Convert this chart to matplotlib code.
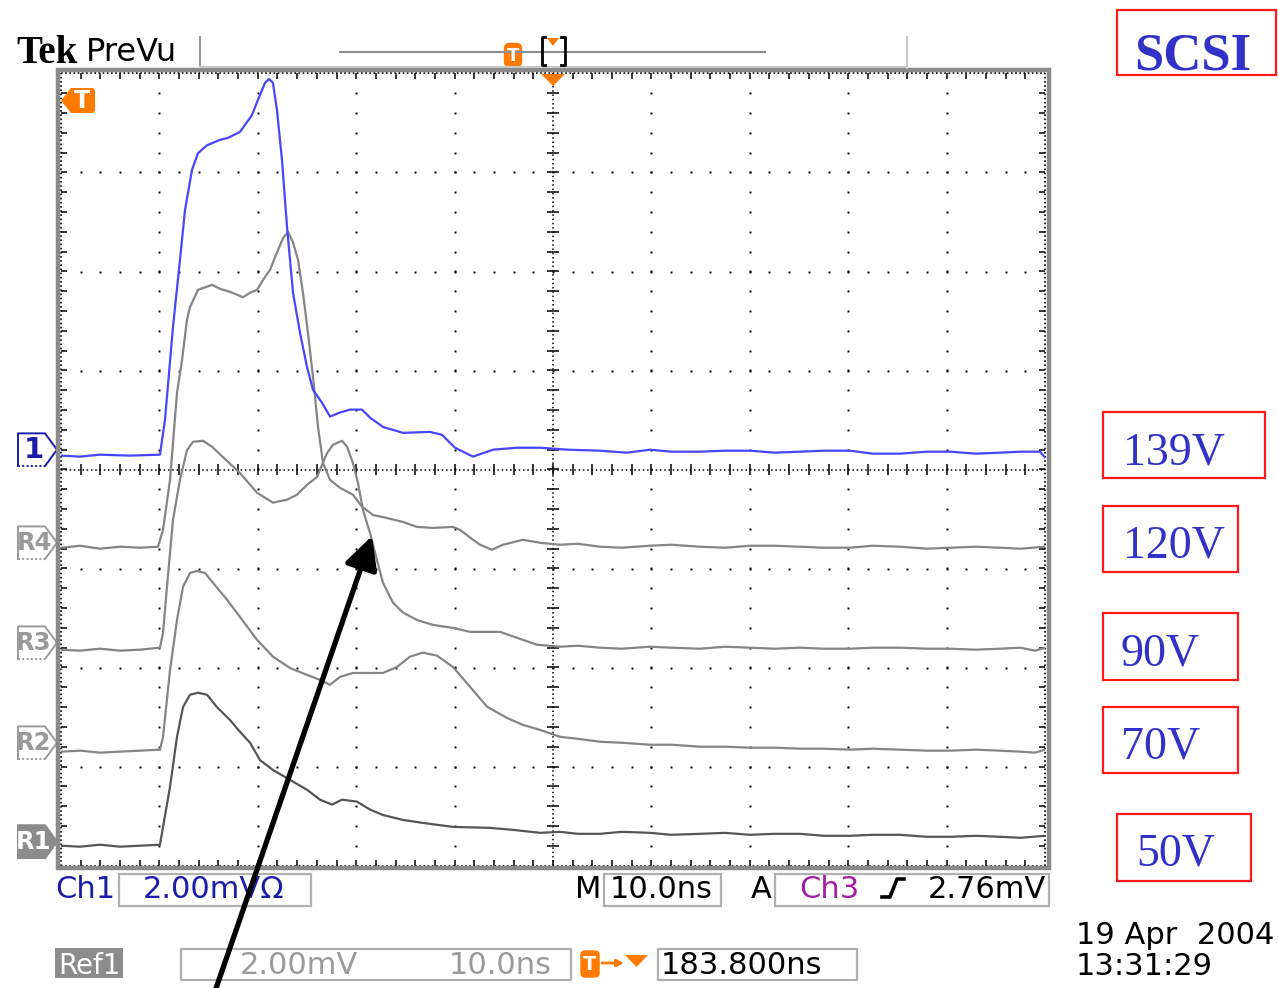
import numpy as np
import matplotlib
matplotlib.use("Agg")
import matplotlib.pyplot as plt
from matplotlib.patches import Polygon, Rectangle, FancyBboxPatch
from matplotlib.collections import LineCollection
from matplotlib import transforms

# ---------------------------------------------------------------- data
# time in ns (10 ns/div), amplitude in mV (2 mV/div), relative to each trace's marker
t_ch1 = [0, 1.93, 3.96, 7.01, 10.06, 10.57, 11.38, 12.09, 12.60, 13.31, 13.92, 14.84,
         16.16, 16.97, 18.19, 19.41, 19.92, 20.73, 21.14, 21.54, 21.95, 22.46, 22.97,
         23.58, 24.29, 25.00, 25.61, 26.52, 27.34, 28.35, 29.37, 30.59, 31.40, 32.72,
         34.76, 37.50, 38.72, 40.04, 41.87, 43.90, 46.34, 48.68, 51.5, 54.78, 57.5,
         59.86, 62.0, 64.94, 67.5, 70.02, 72.5, 75.10, 77.5, 80.18, 82.5, 85.26, 88.0,
         90.35, 93.0, 95.43, 97.5, 99.49, 100]
v_ch1 = [-0.12, -0.14, -0.10, -0.12, -0.10, 0.61, 2.48, 3.83, 4.84, 5.65, 5.99, 6.15,
         6.26, 6.30, 6.42, 6.76, 7.02, 7.41, 7.49, 7.41, 6.86, 5.85, 4.50,
         3.17, 2.36, 1.67, 1.21, 0.95, 0.67, 0.75, 0.81, 0.81, 0.65, 0.46,
         0.34, 0.36, 0.30, 0.04, -0.14, 0.00, 0.04, 0.04, 0.00, -0.02, -0.06,
         0.00, -0.04, -0.04, -0.02, -0.02, -0.06, -0.04, -0.02, -0.02, -0.08, -0.08, -0.04,
         -0.04, -0.08, -0.06, -0.04, -0.04, -0.16]

t_r4 = [0, 1.93, 3.96, 6.00, 8.03, 9.86, 10.37, 11.08, 11.79, 12.30, 12.80, 13.11, 13.92,
        15.35, 16.16, 17.17, 18.50, 19.21, 19.92, 20.73, 21.24, 21.75, 22.56, 23.07,
        23.58, 24.09, 24.59, 25.10, 25.61, 26.12, 26.63, 27.34, 28.35, 29.67, 30.59,
        31.71, 33.13, 34.76, 36.18, 37.80, 39.84, 40.55, 41.87, 42.58, 43.80, 44.92,
        46.95, 48.68, 50.71, 52.5, 54.78, 57.0, 59.86, 62.0, 64.94, 67.5, 70.02, 72.5,
        75.10, 77.5, 80.18, 82.5, 85.26, 88.0, 90.35, 93.0, 95.43, 97.5, 100]
v_r4 = [-0.10, -0.06, -0.12, -0.08, -0.10, -0.08, 0.26, 1.27, 3.03, 3.69, 4.50, 4.76, 5.11,
        5.21, 5.13, 5.07, 4.96, 5.05, 5.11, 5.37, 5.51, 5.77, 6.15, 6.28,
        6.07, 5.71, 5.05, 4.24, 3.35, 2.34, 1.61, 1.27, 1.11, 0.97, 0.73,
        0.56, 0.50, 0.42, 0.32, 0.30, 0.32, 0.26, 0.06, -0.04, -0.14, -0.04,
        0.06, 0.00, -0.04, -0.02, -0.08, -0.10, -0.06, -0.04, -0.08, -0.10, -0.06, -0.06,
        -0.08, -0.10, -0.10, -0.06, -0.08, -0.12, -0.10, -0.08, -0.10, -0.12, -0.08]

t_r3 = [0, 1.93, 3.96, 6.00, 8.03, 10.06, 10.37, 10.77, 11.38, 12.09, 12.80, 13.41, 14.43,
        15.35, 16.46, 18.19, 19.92, 21.54, 22.97, 23.98, 25.00, 26.02, 27.03, 27.64,
        28.56, 29.07, 29.67, 30.18, 30.69, 31.40, 32.11, 32.72, 33.74, 34.76, 36.18,
        37.80, 39.84, 41.57, 44.61, 46.34, 48.37, 50.71, 52.5, 54.78, 57.0, 59.86, 62.0,
        64.94, 67.5, 70.02, 72.5, 75.10, 77.5, 80.18, 82.5, 85.26, 88.0, 90.35, 93.0,
        95.43, 97.5, 99.0, 100]
v_r3 = [-0.14, -0.16, -0.12, -0.16, -0.14, -0.10, 0.20, 1.13, 2.48, 3.29, 3.89, 4.06, 4.08,
        3.96, 3.75, 3.43, 3.03, 2.83, 2.89, 2.99, 3.19, 3.35, 3.83, 4.00,
        4.08, 3.96, 3.63, 3.23, 2.68, 2.22, 1.67, 1.21, 0.81, 0.61, 0.46,
        0.36, 0.30, 0.22, 0.22, 0.10, -0.04, -0.08, -0.06, -0.10, -0.12, -0.08, -0.10,
        -0.12, -0.08, -0.10, -0.12, -0.10, -0.12, -0.12, -0.10, -0.10, -0.12, -0.12, -0.14,
        -0.12, -0.10, -0.16, -0.10]

t_r2 = [0, 1.93, 3.96, 6.00, 8.03, 10.06, 10.37, 11.08, 11.79, 12.40, 13.11, 13.82, 14.63,
        15.45, 16.87, 18.19, 19.92, 21.54, 23.27, 25.00, 26.32, 27.34, 28.35, 29.67,
        31.71, 32.72, 34.15, 35.47, 36.79, 38.21, 39.84, 41.57, 43.29, 45.33, 46.95,
        48.68, 50.71, 52.5, 54.78, 57.0, 59.86, 62.0, 64.94, 67.5, 70.02, 72.5,
        75.10, 77.5, 80.18, 82.5, 85.26, 88.0, 90.35, 93.0, 95.43, 97.5, 99.0, 100]
v_r2 = [-0.18, -0.16, -0.20, -0.18, -0.16, -0.14, 0.12, 1.47, 2.48, 3.15, 3.43, 3.47, 3.43,
        3.23, 2.89, 2.54, 2.08, 1.74, 1.51, 1.37, 1.27, 1.17, 1.33, 1.41,
        1.41, 1.41, 1.53, 1.74, 1.82, 1.76, 1.53, 1.13, 0.73, 0.50, 0.36,
        0.26, 0.12, 0.08, 0.02, 0.00, -0.04, -0.04, -0.08, -0.08, -0.10, -0.10,
        -0.12, -0.12, -0.14, -0.12, -0.14, -0.16, -0.16, -0.14, -0.16, -0.18, -0.20, -0.14]

t_r1 = [0, 1.93, 3.96, 6.00, 8.03, 10.06, 10.37, 11.08, 11.79, 12.40, 13.11, 13.92, 14.84,
        15.85, 17.17, 18.19, 19.21, 20.22, 21.54, 23.27, 25.00, 26.32, 27.54, 28.56,
        30.08, 31.40, 32.72, 34.76, 36.79, 39.84, 43.60, 45.93, 48.68, 50.71, 52.5,
        54.78, 57.0, 59.86, 62.0, 64.94, 67.5, 70.02, 72.5, 75.10, 77.5, 80.18, 82.5,
        85.26, 88.0, 90.35, 93.0, 95.43, 97.5, 100]
v_r1 = [-0.08, -0.10, -0.06, -0.10, -0.08, -0.06, 0.30, 1.11, 2.12, 2.72, 2.97, 3.01, 2.97,
        2.72, 2.46, 2.22, 2.00, 1.65, 1.45, 1.25, 1.05, 0.85, 0.75, 0.85,
        0.81, 0.65, 0.54, 0.44, 0.38, 0.30, 0.28, 0.24, 0.18, 0.20, 0.16,
        0.16, 0.20, 0.18, 0.14, 0.16, 0.18, 0.14, 0.16, 0.16, 0.12, 0.12, 0.14,
        0.14, 0.10, 0.10, 0.12, 0.10, 0.08, 0.12]

trace_labels = ["1", "R4", "R3", "R2", "R1"]
bias_labels = ["139V", "120V", "90V", "70V", "50V"]

# ---------------------------------------------------------------- layout
W, H = 1278, 988
MV_PER_DIV = 2.0
NS_PER_DIV = 10.0
offsets_div = [0.20, -0.74, -1.75, -2.76, -3.76]

fig = plt.figure(figsize=(W / 100, H / 100), dpi=100)
fig.patch.set_facecolor("white")

X0, X1, Y0, Y1 = 61, 1045, 73.5, 865.5
ax = fig.add_axes([X0 / W, 1 - Y1 / H, (X1 - X0) / W, (Y1 - Y0) / H])
ax.set_xlim(0, 10 * NS_PER_DIV)
ax.set_ylim(-4, 4)
ax.axis("off")

ov = fig.add_axes([0, 0, 1, 1], zorder=5)
ov.set_xlim(0, W)
ov.set_ylim(H, 0)
ov.axis("off")
ov.patch.set_alpha(0)

# ---------------------------------------------------------------- graticule
minor_x = np.arange(0, 100.001, NS_PER_DIV / 5)
minor_y = np.arange(-4, 4.001, 0.2)
dot_kw = dict(ls="none", marker="s", ms=1.4, mew=0, color="black")
for xm in np.arange(10, 100, 10):
    if xm == 50:
        continue
    ax.plot(np.full(len(minor_y) - 2, xm), minor_y[1:-1], **dot_kw)
for ym in np.arange(-3, 4, 1):
    if ym == 0:
        continue
    ax.plot(minor_x[1:-1], np.full(len(minor_x) - 2, ym), **dot_kw)

# centre cross with tick marks
ax.plot([0, 100], [0, 0], ls=(0, (1, 1.8)), lw=1.1, color="black")
ax.plot([50, 50], [-4, 4], ls=(0, (1, 1.8)), lw=1.1, color="black")
segs = [[(x, -0.06), (x, 0.06)] for x in minor_x[1:-1]]
segs += [[(49.4, y), (50.6, y)] for y in minor_y[1:-1]]
ax.add_collection(LineCollection(segs, colors="black", lw=1.1))

# inner edge of the screen: dense dots with ticks every minor step
for xe in (0, 100):
    ax.plot([xe, xe], [-4, 4], ls=(0, (1, 1.5)), lw=1.2, color="black", clip_on=False)
for ye in (-4, 4):
    ax.plot([0, 100], [ye, ye], ls=(0, (1, 1.5)), lw=1.2, color="black", clip_on=False)
edge = []
for x in minor_x[1:-1]:
    edge += [[(x, 4), (x, 3.94)], [(x, -4), (x, -3.94)]]
for y in minor_y[1:-1]:
    edge += [[(0, y), (0.6, y)], [(100, y), (99.4, y)]]
ax.add_collection(LineCollection(edge, colors="black", lw=1.1))

# ---------------------------------------------------------------- traces
trace_t = [t_ch1, t_r4, t_r3, t_r2, t_r1]
trace_v = [v_ch1, v_r4, v_r3, v_r2, v_r1]
colors = ["#4646ff", "#858585", "#858585", "#858585", "#555555"]
for t, v, off, c in zip(trace_t[::-1], trace_v[::-1], offsets_div[::-1], colors[::-1]):
    ax.plot(t, off + np.asarray(v) / MV_PER_DIV, color=c, lw=1.6, zorder=3)

# thick grey screen frame
ov.add_patch(Rectangle((57.5, 70.5), 991.5, 797.5, fill=False, ec="#8a8a8a", lw=3.2))

# ---------------------------------------------------------------- trace markers
mk = transforms.blended_transform_factory(ov.transData, ax.transData)
h = 0.165
for lab, off, c in zip(trace_labels, offsets_div, colors):
    if lab == "1":
        ec, fc, tc = "#1c1ca8", "none", "#1c1ca8"
    elif lab == "R1":
        ec, fc, tc = "#8c8c8c", "#8c8c8c", "white"
    else:
        ec, fc, tc = "#9a9a9a", "none", "#9a9a9a"
    if fc != "none":
        ax.add_patch(Polygon([(18, off + h), (45, off + h), (57, off), (45, off - h), (18, off - h)],
                             closed=True, fc=fc, ec=ec, lw=1.3, transform=mk, clip_on=False))
    ax.plot([18, 18, 45, 57, 45], [off - h, off + h, off + h, off, off - h], color=ec,
            lw=1.4, transform=mk, clip_on=False)
    ax.plot([18, 45], [off - h, off - h], color=ec, lw=1.4, ls=(0, (1, 1.2)),
            transform=mk, clip_on=False)
    ax.text(34 if lab == "1" else 34, off, lab, transform=mk, ha="center", va="center",
            color=tc, fontsize=21 if lab == "1" else 17.5, fontweight="bold",
            family="DejaVu Sans", clip_on=False)

# ---------------------------------------------------------------- header
ORANGE = "#ff7a00"
ov.text(16, 63, "Tek", family="Liberation Serif", fontweight="bold", fontsize=28, va="baseline")
ov.text(86, 61, "PreVu", family="DejaVu Sans", fontsize=23, va="baseline")
ov.plot([200, 200], [37, 68], color="#999999", lw=1.5)
ov.plot([200, 907], [67.5, 67.5], color="#c8c8c8", lw=1.5)
ov.plot([907, 907], [37, 68], color="#c8c8c8", lw=1.5)
ov.plot([340, 765], [52, 52], color="#8c8c8c", lw=1.5)
ov.add_patch(FancyBboxPatch((506, 45), 14, 20, boxstyle="round,pad=1.5,rounding_size=5",
                            fc=ORANGE, ec=ORANGE))
ov.text(513, 56, "T", color="white", fontsize=13, fontweight="bold", ha="center", va="center")
ov.plot([545, 541.5, 541.5, 545], [37.5, 37.5, 65.5, 65.5], color="black", lw=2)
ov.plot([561, 564.5, 564.5, 561], [37.5, 37.5, 65.5, 65.5], color="black", lw=2)
ov.add_patch(Polygon([(547, 38), (559, 38), (553, 46)], closed=True, fc=ORANGE, ec="none"))

# trigger position / level markers
ov.add_patch(Polygon([(541, 74), (565, 74), (553, 86)], closed=True, fc=ORANGE, ec="none"))
ov.add_patch(Polygon([(61, 100.5), (71, 88), (93, 88), (95, 90), (95, 111), (93, 113), (71, 113)],
                     closed=True, fc=ORANGE, ec="none"))
ov.text(82, 101, "T", color="white", fontsize=17, fontweight="bold", ha="center", va="center")

# ---------------------------------------------------------------- readouts
fs = 22
BLUE_TXT = "#1c1ca8"
GREY_TXT = "#9a9a9a"
BOX = "#b0b0b0"
ov.text(55, 898, "Ch1", color=BLUE_TXT, fontsize=fs, va="baseline")
ov.add_patch(Rectangle((118.5, 873.5), 192, 32, fill=False, ec=BOX, lw=1.6))
ov.text(143, 898, "2.00mV\u03a9", color=BLUE_TXT, fontsize=fs, va="baseline")
ov.text(575, 898, "M", color="black", fontsize=fs, va="baseline")
ov.add_patch(Rectangle((603.5, 873.5), 117, 32, fill=False, ec=BOX, lw=1.6))
ov.text(610, 898, "10.0ns", color="black", fontsize=fs, va="baseline")
ov.text(751, 898, "A", color="black", fontsize=fs, va="baseline")
ov.add_patch(Rectangle((774.5, 873.5), 274, 32, fill=False, ec=BOX, lw=1.6))
ov.text(799, 898, "Ch3", color="#a21ea2", fontsize=fs, va="baseline")
ov.plot([882, 890, 897, 904], [897, 897, 879, 879], color="black", lw=2.6)
ov.text(928, 898, "2.76mV", color="black", fontsize=fs, va="baseline")

ov.add_patch(Rectangle((55, 948), 68, 30, fc="#8c8c8c", ec="none"))
ov.text(89, 974, "Ref1", color="white", fontsize=fs - 2, va="baseline", ha="center")
ov.add_patch(Rectangle((180.5, 948.5), 390, 31, fill=False, ec=BOX, lw=1.6))
ov.text(240, 974, "2.00mV", color=GREY_TXT, fontsize=fs, va="baseline")
ov.text(449, 974, "10.0ns", color=GREY_TXT, fontsize=fs, va="baseline")
ov.add_patch(FancyBboxPatch((582, 952), 16, 24, boxstyle="round,pad=1,rounding_size=4",
                            fc=ORANGE, ec=ORANGE))
ov.text(590, 964, "T", color="white", fontsize=14, fontweight="bold", ha="center", va="center")
ov.annotate("", xy=(624, 963), xytext=(602, 963),
            arrowprops=dict(arrowstyle="-|>", color=ORANGE, lw=2, mutation_scale=10,
                            shrinkA=0, shrinkB=0))
ov.add_patch(Polygon([(625, 955), (648, 955), (636.5, 967)], closed=True, fc=ORANGE, ec="none"))
ov.add_patch(Rectangle((657.5, 948.5), 199, 31, fill=False, ec=BOX, lw=1.6))
ov.text(661, 974, "183.800ns", color="black", fontsize=fs, va="baseline")

ov.text(1076, 944, "19 Apr  2004", color="black", fontsize=fs, va="baseline")
ov.text(1076, 975, "13:31:29", color="black", fontsize=fs, va="baseline")

# ---------------------------------------------------------------- bias labels
RED = "#ff1a1a"
LBLUE = "#3232c8"
ov.add_patch(Rectangle((1117, 10), 159, 65, fill=False, ec=RED, lw=1.6))
ov.text(1134, 70, "SCSI", family="Liberation Serif", fontweight="bold", fontsize=38,
        color=LBLUE, va="baseline")
boxes = [(1103, 412, 162, 66, 1123, 464),
         (1103, 506, 135, 66, 1123, 557),
         (1103, 613, 135, 67, 1121, 665),
         (1103, 707, 135, 66, 1121, 758),
         (1117, 814, 134, 67, 1136, 865)]
for lab, (bx, by, bw, bh, tx, ty) in zip(bias_labels, boxes):
    ov.add_patch(Rectangle((bx, by), bw, bh, fill=False, ec=RED, lw=1.6))
    ov.text(tx, ty, lab, family="Liberation Serif", fontsize=33, color=LBLUE, va="baseline")

# ---------------------------------------------------------------- pointer arrow
ov.annotate("", xy=(372, 536), xytext=(212, 1000),
            arrowprops=dict(arrowstyle="-|>,head_length=0.55,head_width=0.28", color="black",
                            lw=3.8, mutation_scale=36, shrinkA=0, shrinkB=0),
            annotation_clip=False)

fig.savefig("out.png", dpi=100, facecolor="white")
